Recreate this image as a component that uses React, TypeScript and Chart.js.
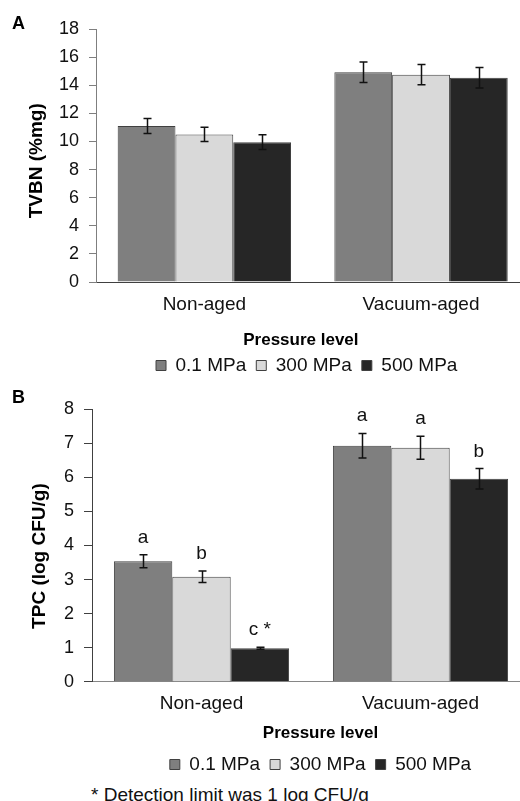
import React, { useEffect, useRef } from 'react';
import { Chart, registerables } from 'chart.js';

Chart.register(...registerables);

const FONT = "'Liberation Sans', Arial, sans-serif";

const categories = ['Non-aged', 'Vacuum-aged'];
const seriesNames = ['0.1 MPa', '300 MPa', '500 MPa'];
const seriesColors = ['#7f7f7f', '#d9d9d9', '#262626'];

// Panel A: TVBN (%mg)
const tvbn01 = [11.1, 14.93];
const tvbn300 = [10.5, 14.75];
const tvbn500 = [9.95, 14.53];
const tvbnErr01 = [0.53, 0.73];
const tvbnErr300 = [0.51, 0.72];
const tvbnErr500 = [0.53, 0.73];
const tvbnAxis = { min: 0, max: 18, step: 2 };

// Panel B: TPC (log CFU/g)
const tpc01 = [3.54, 6.93];
const tpc300 = [3.08, 6.87];
const tpc500 = [0.98, 5.96];
const tpcErr01 = [0.19, 0.36];
const tpcErr300 = [0.17, 0.34];
const tpcErr500 = [0.03, 0.3];
const tpcLetters01 = ['a', 'a'];
const tpcLetters300 = ['b', 'a'];
const tpcLetters500 = ['c *', 'b'];
const tpcAxis = { min: 0, max: 8, step: 1 };

const errorBarPlugin = {
  id: 'errorBars',
  afterDatasetsDraw(chart: any) {
    const ctx = chart.ctx;
    const yScale = chart.scales.y;
    chart.data.datasets.forEach((ds: any, i: number) => {
      const meta = chart.getDatasetMeta(i);
      meta.data.forEach((bar: any, j: number) => {
        const v = ds.data[j];
        const e = ds.errors[j];
        const x = Math.round(bar.x) + 0.5;
        const yt = yScale.getPixelForValue(v + e);
        const yb = yScale.getPixelForValue(v - e);
        ctx.save();
        ctx.strokeStyle = '#111';
        ctx.lineWidth = 1.5;
        ctx.beginPath();
        ctx.moveTo(x, yt);
        ctx.lineTo(x, yb);
        ctx.moveTo(x - 4, yt);
        ctx.lineTo(x + 4, yt);
        ctx.moveTo(x - 4, yb);
        ctx.lineTo(x + 4, yb);
        ctx.stroke();
        if (ds.letters) {
          ctx.fillStyle = '#111';
          ctx.font = `19px ${FONT}`;
          ctx.textAlign = 'center';
          ctx.textBaseline = 'alphabetic';
          ctx.fillText(ds.letters[j], bar.x, yt - 12);
        }
        ctx.restore();
      });
    });
  },
};

const legendShiftPlugin = {
  id: 'legendShift',
  afterLayout(chart: any, _args: any, opts: any) {
    const l = chart.legend;
    if (l && opts && opts.dx) {
      l.left += opts.dx;
      l.right += opts.dx;
    }
  },
};

function buildConfig(p: any): any {
  return {
    type: 'bar',
    data: {
      labels: categories,
      datasets: p.values.map((vals: number[], i: number) => ({
        label: seriesNames[i],
        data: vals,
        errors: p.errors[i],
        letters: p.letters ? p.letters[i] : null,
        backgroundColor: seriesColors[i],
        borderColor: '#404040',
        borderWidth: 1,
        barPercentage: 1,
        categoryPercentage: 0.8,
      })),
    },
    options: {
      responsive: false,
      animation: false,
      layout: { padding: { top: p.padTop, right: p.padRight, bottom: 0, left: 0 } },
      plugins: {
        legend: {
          position: 'bottom',
          fullSize: false,
          labels: {
            boxWidth: 10,
            boxHeight: 10,
            padding: 10,
            color: '#111',
            font: { family: FONT, size: 19 },
          },
        },
        tooltip: { enabled: false },
        legendShift: { dx: p.legendDx },
      },
      scales: {
        x: {
          afterFit: (s: any) => {
            s.height = p.xHeight;
          },
          grid: { display: false, drawTicks: false, tickLength: 0 },
          border: { display: true, color: p.xAxisColor, width: 1 },
          ticks: { color: '#111', padding: 11, font: { family: FONT, size: 19 } },
          title: {
            display: true,
            text: p.xTitle,
            color: '#000',
            font: { family: FONT, size: 17, weight: 'bold' },
            padding: { top: 0, bottom: p.xTitlePadBottom },
          },
        },
        y: {
          min: p.axis.min,
          max: p.axis.max,
          afterFit: (s: any) => {
            s.width = p.yWidth;
          },
          grid: {
            drawOnChartArea: false,
            drawTicks: true,
            tickLength: p.tickLength,
            color: p.yAxisColor,
          },
          border: { display: true, color: p.yAxisColor, width: 1 },
          ticks: {
            stepSize: p.axis.step,
            color: '#111',
            padding: 10,
            font: { family: FONT, size: 18 },
          },
          title: {
            display: true,
            text: p.yTitle,
            color: '#000',
            font: { family: FONT, size: 19, weight: 'bold' },
            padding: { top: p.yTitlePadTop, bottom: 0 },
          },
        },
      },
    },
    plugins: [errorBarPlugin, legendShiftPlugin],
  };
}

export default function App() {
  const refA = useRef<HTMLCanvasElement>(null);
  const refB = useRef<HTMLCanvasElement>(null);

  useEffect(() => {
    const chartA = new Chart(
      refA.current as HTMLCanvasElement,
      buildConfig({
        values: [tvbn01, tvbn300, tvbn500],
        errors: [tvbnErr01, tvbnErr300, tvbnErr500],
        letters: null,
        axis: tvbnAxis,
        padTop: 29,
        padRight: 10.6,
        xHeight: 64,
        xTitle: 'Pressure level     ',
        xTitlePadBottom: -4.5,
        yTitle: 'TVBN (%mg)  ',
        yTitlePadTop: 25.6,
        yWidth: 96,
        tickLength: 7,
        xAxisColor: '#404040',
        yAxisColor: '#7f7f7f',
        legendDx: -6,
      })
    );
    const chartB = new Chart(
      refB.current as HTMLCanvasElement,
      buildConfig({
        values: [tpc01, tpc300, tpc500],
        errors: [tpcErr01, tpcErr300, tpcErr500],
        letters: [tpcLetters01, tpcLetters300, tpcLetters500],
        axis: tpcAxis,
        padTop: 24.3,
        padRight: 10,
        xHeight: 63.3,
        xTitle: '    Pressure level',
        xTitlePadBottom: 1.8,
        yTitle: 'TPC (log CFU/g)    ',
        yTitlePadTop: 28.6,
        yWidth: 92,
        tickLength: 8,
        xAxisColor: '#868686',
        yAxisColor: '#404040',
        legendDx: 9.5,
      })
    );
    return () => {
      chartA.destroy();
      chartB.destroy();
    };
  }, []);

  return (
    <div
      style={{
        position: 'absolute',
        left: 0,
        top: 0,
        width: 520,
        height: 801,
        overflow: 'hidden',
        background: '#fff',
      }}
    >
      <canvas ref={refA} width={540} height={385} style={{ position: 'absolute', left: 0, top: 0 }} />
      <canvas ref={refB} width={540} height={399} style={{ position: 'absolute', left: 0, top: 385 }} />
      <div
        style={{
          position: 'absolute',
          left: 12,
          top: 13.3,
          font: `bold 18px ${FONT}`,
          color: '#000',
        }}
      >
        A
      </div>
      <div
        style={{
          position: 'absolute',
          left: 12,
          top: 386.6,
          font: `bold 18px ${FONT}`,
          color: '#000',
        }}
      >
        B
      </div>
      <div
        style={{
          position: 'absolute',
          left: 91,
          top: 783.7,
          font: `19px ${FONT}`,
          color: '#111',
          whiteSpace: 'nowrap',
        }}
      >
        * Detection limit was 1 log CFU/g
      </div>
    </div>
  );
}
